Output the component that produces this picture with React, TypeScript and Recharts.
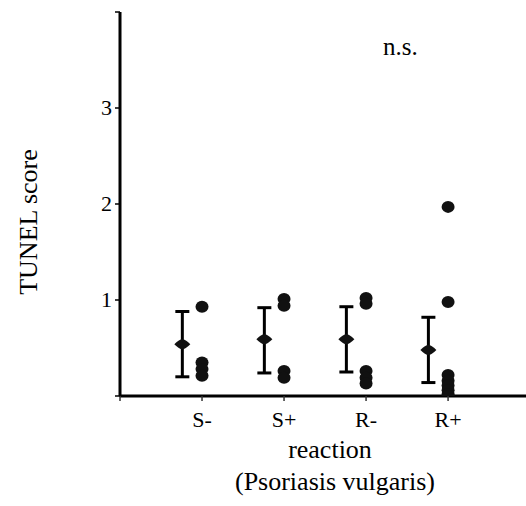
import { ScatterChart, Scatter, XAxis, YAxis, ErrorBar, Label } from "recharts";

const categories = ["S-", "S+", "R-", "R+"];
const means = [0.54, 0.59, 0.59, 0.48];
const lows = [0.2, 0.24, 0.25, 0.14];
const highs = [0.88, 0.92, 0.93, 0.82];
const scores = [
  [0.93, 0.35, 0.28, 0.21],
  [1.01, 0.94, 0.26, 0.19],
  [1.02, 0.96, 0.26, 0.19, 0.13],
  [1.97, 0.98, 0.22, 0.16, 0.11, 0.06, 0.02, 0],
];
const yTicks = [0, 1, 2, 3, 4];
const yTickLabels = ["", "1", "2", "3", ""];

const FONT = "'Liberation Serif', 'Times New Roman', serif";
const BAR_SHIFT = 0.24;

const dots = scores.flatMap((vals, i) => vals.map((v) => ({ x: i + 1, y: v })));
const summary = means.map((m, i) => ({
  x: i + 1 - BAR_SHIFT,
  y: m,
  err: [m - lows[i], highs[i] - m],
}));

const Dot = (props: any) => (
  <ellipse cx={props.cx} cy={props.cy} rx={6.5} ry={6} fill="#111" />
);

const Diamond = (props: any) => {
  const { cx, cy } = props;
  return (
    <path
      d={`M${cx - 8},${cy} Q${cx - 3},${cy - 5} ${cx},${cy - 5} Q${cx + 3},${cy - 5} ${cx + 8},${cy} Q${cx + 3},${cy + 5} ${cx},${cy + 5} Q${cx - 3},${cy + 5} ${cx - 8},${cy} Z`}
      fill="#111"
    />
  );
};

const XTick = (props: any) => {
  const { x, y, payload } = props;
  const v = payload.value;
  const label = v === 0 ? "" : categories[v - 1];
  return (
    <text x={x} y={y + 26} textAnchor="middle" style={{ fontSize: 22, fontFamily: FONT, fill: "#000" }}>
      {label}
    </text>
  );
};

const YTick = (props: any) => {
  const { x, y, payload } = props;
  const label = yTickLabels[yTicks.indexOf(payload.value)];
  return (
    <text x={x + 2} y={y + 7} textAnchor="end" style={{ fontSize: 22, fontFamily: FONT, fill: "#000" }}>
      {label}
    </text>
  );
};

const textStyle = { fontFamily: FONT, fill: "#000" };

export default function App() {
  return (
    <div style={{ position: "absolute", left: 0, top: 0, width: 526, height: 506, background: "#fff" }}>
      <ScatterChart
        width={526}
        height={506}
        margin={{ top: 12, right: 0, bottom: 0, left: 0 }}
        style={{ fontFamily: FONT }}
      >
        <XAxis
          type="number"
          dataKey="x"
          domain={[0, 4.95]}
          ticks={[0, 1, 2, 3, 4]}
          height={110}
          axisLine={{ stroke: "#000", strokeWidth: 3 }}
          tickLine={{ stroke: "#333", strokeWidth: 1.5 }}
          tick={<XTick />}
          tickSize={5}
          tickMargin={0}
          allowDataOverflow
        >
          <Label
            content={() => (
              <g>
                <text x={330} y={458} textAnchor="middle" style={{ ...textStyle, fontSize: 26 }}>reaction</text>
                <text x={335} y={490} textAnchor="middle" style={{ ...textStyle, fontSize: 26 }}>(Psoriasis vulgaris)</text>
                <text x={383} y={55} textAnchor="start" style={{ ...textStyle, fontSize: 25 }}>n.s.</text>
              </g>
            )}
          />
        </XAxis>
        <YAxis
          type="number"
          dataKey="y"
          domain={[0, 4]}
          ticks={yTicks}
          width={120}
          axisLine={{ stroke: "#000", strokeWidth: 3 }}
          tickLine={{ stroke: "#000", strokeWidth: 1.5 }}
          tick={<YTick />}
          tickSize={5}
          tickMargin={5}
          allowDataOverflow
        >
          <Label
            content={() => (
              <text
                transform="translate(37,222) rotate(-90)"
                textAnchor="middle"
                style={{ ...textStyle, fontSize: 26 }}
              >
                TUNEL score
              </text>
            )}
          />
        </YAxis>
        <Scatter data={dots} shape={Dot} isAnimationActive={false} />
        <Scatter data={summary} shape={Diamond} isAnimationActive={false}>
          <ErrorBar dataKey="err" direction="y" width={7} strokeWidth={3} stroke="#000" isAnimationActive={false} />
        </Scatter>
      </ScatterChart>
    </div>
  );
}
